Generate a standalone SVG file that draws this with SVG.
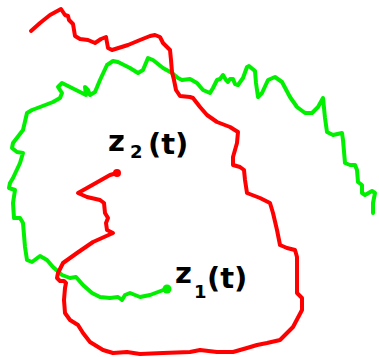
<svg xmlns="http://www.w3.org/2000/svg" width="379" height="357" viewBox="0 0 379 357">
<style>
.c{fill:none;stroke-width:4;stroke-linecap:round;stroke-linejoin:round}
.g{stroke:#00f000}
.r{stroke:#ff0000}
.t{font-family:"DejaVu Sans",sans-serif;font-weight:bold;fill:#000}
.big{font-size:29px}
.sub{font-size:18px}
</style>
<rect width="379" height="357" fill="#fff"/>
<g id="connectors">
<polyline class="c g" points="373,213 373,203 375,193 372,191 365,195 362,193 362,185 358,182 357,170 355,165 350,165 345,163 343,140 342,133 333,135 327,132 325,118 323,98 318,107 312,113 305,113 297,107 290,97 282,82 275,77 268,80 262,93 258,97 256,83 255,71 249,66 247,67 243,78 238,85 235,84 233,79 230,79 228,82 226,80 223,75 220,79 217,80 213,88 210,93 203,90 197,83 190,79 182,80 178,78 172,73 163,68 153,60 148,58 143,70 138,73 130,68 118,62 113,61 107,65 100,80 95,92 90,95 88,90 85,87 86,95 80,92 70,87 62,83 58,87 62,93 60,98 53,102 40,107 32,110 27,113 23,130 13,143 12,148 17,152 23,153 20,163 13,178 10,183 9,188 15,190 13,203 14,218 20,218 23,223 25,247 27,260 32,262 40,256 47,260 53,267 62,275 70,278 76,277 83,285 92,293 100,297 110,298 118,297 122,300 125,295 130,293 140,297 150,295 166,289"/>
<polyline class="c r" points="31,31 40,23 50,15 61,9 63,12 65,15 68,16 69,20 71,22 73,24 74,30 75,36 80,39 88,40 95,43 101,39 106,37 108,48 112,50 128,45 140,40 150,36 155,35 160,37 163,43 167,47 170,50 171,60 172,72 174,80 176,90 180,96 190,97 193,98 200,107 207,115 217,122 230,127 238,132 237,143 233,157 233,165 240,167 244,170 245,180 247,193 260,198 270,203 273,213 277,230 280,245 287,248 295,250 297,257 297,293 302,298 302,310 293,327 280,340 267,343 257,345 247,348 233,352 217,352 200,350 190,352 163,353 140,354 127,352 113,353 103,350 90,342 83,333 78,325 70,320 65,313 64,300 65,288 66,283 64,281 60,281 57,278 58,273 63,263 77,253 93,242 113,233 107,230 106,223 108,218 105,213 104,203 100,200 87,197 78,193 87,188 110,175 117,173"/>
</g>
<g id="z1">
<circle cx="167" cy="289" r="4.5" fill="#00f000"/>
<text class="t big" x="175" y="283">z</text>
<text class="t sub" x="194" y="298">1</text>
<text class="t big" x="207" y="288">(t)</text>
</g>
<g id="z2">
<circle cx="117" cy="173" r="4" fill="#ff0000"/>
<text class="t big" x="108" y="151">z</text>
<text class="t sub" x="130" y="158">2</text>
<text class="t big" x="148" y="154">(t)</text>
</g>
</svg>
